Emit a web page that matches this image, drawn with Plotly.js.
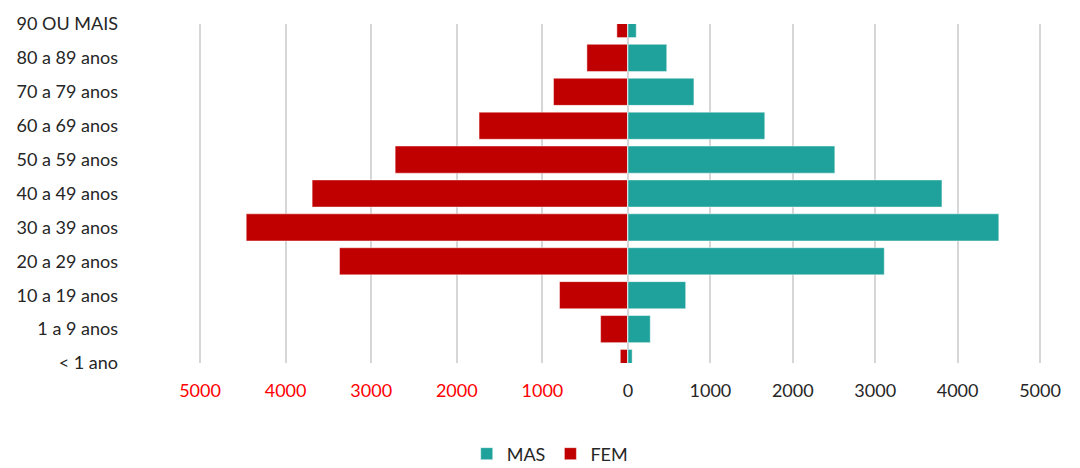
<!DOCTYPE html>
<html>
<head>
<meta charset="utf-8">
<script src="https://cdn.plot.ly/plotly-3.0.1.min.js"></script>
<style>html,body{margin:0;padding:0;background:#fff;}#chart{width:1080px;height:468px;}</style>
</head>
<body>
<div id="chart"></div>
<script>
const categories = ['< 1 ano','1 a 9 anos','10 a 19 anos','20 a 29 anos','30 a 39 anos','40 a 49 anos','50 a 59 anos','60 a 69 anos','70 a 79 anos','80 a 89 anos','90 OU MAIS'];
const mas = [50, 270, 700, 3110, 4500, 3810, 2510, 1660, 800, 470, 100];
const fem = [90, 320, 800, 3370, 4460, 3690, 2720, 1740, 870, 480, 130];
const femTicks = [5000, 4000, 3000, 2000, 1000];
const masTicks = [0, 1000, 2000, 3000, 4000, 5000];

const FONT = 'Lato, "Open Sans", sans-serif';
const traces = [
  {type:'bar', orientation:'h', name:'MAS', y:categories, x:mas, xaxis:'x2', yaxis:'y',
   marker:{color:'#1FA29B', line:{color:'rgba(255,255,255,0.45)', width:1}}, hoverinfo:'skip'},
  {type:'bar', orientation:'h', name:'FEM', y:categories, x:fem, xaxis:'x', yaxis:'y',
   marker:{color:'#C00000', line:{color:'rgba(255,255,255,0.45)', width:1}}, hoverinfo:'skip'}
];
// pixel layout of the plot area (pad of 4px so edge gridlines are drawn)
const L = 196, R = 1044, Z = 628, pad = 4;
const W = R - L;
const leftScale = (Z - (L + pad)) / 5000;   // px per unit on FEM side
const rightScale = ((R - pad) - Z) / 5000;  // px per unit on MAS side
const layout = {
  width:1080, height:468,
  margin:{l:L, r:1080 - R, t:24, b:104.5},
  paper_bgcolor:'#fff', plot_bgcolor:'rgba(0,0,0,0)',
  font:{family:FONT, size:18, color:'#262626'},
  bargap:0.2,
  showlegend:true,
  legend:{orientation:'h', xref:'container', yref:'container', x:0.509, xanchor:'center', y:0.03, yanchor:'middle',
          font:{family:FONT, size:18, color:'#262626'}, traceorder:'normal'},
  xaxis:{domain:[0, (Z - L) / W], range:[(Z - L) / leftScale, 0], tickmode:'array', tickvals:femTicks, ticktext:femTicks.map(String),
         tickfont:{color:'#FF0000', size:18, family:FONT}, showgrid:true, gridcolor:'#d6d6d6', gridwidth:2,
         zeroline:false, showline:false, ticks:'', ticklabelstandoff:15, fixedrange:true, anchor:'y'},
  xaxis2:{domain:[(Z - pad - L) / W, 1], range:[-pad / rightScale, (R - Z) / rightScale], tickmode:'array', tickvals:masTicks, ticktext:masTicks.map(String),
         tickfont:{color:'#262626', size:18, family:FONT}, showgrid:true, gridcolor:'#d6d6d6', gridwidth:2,
         zeroline:false, showline:false, ticks:'', ticklabelstandoff:15, fixedrange:true, anchor:'y'},
  yaxis:{type:'category', categoryorder:'array', categoryarray:categories, range:[0, 10], anchor:'x',
         showgrid:false, zeroline:false, showline:false, ticks:'', ticklabelstandoff:77,
         tickfont:{color:'#262626', size:18, family:FONT}, fixedrange:true}
};
Plotly.newPlot('chart', traces, layout, {displayModeBar:false, staticPlot:true});
</script>
</body>
</html>
